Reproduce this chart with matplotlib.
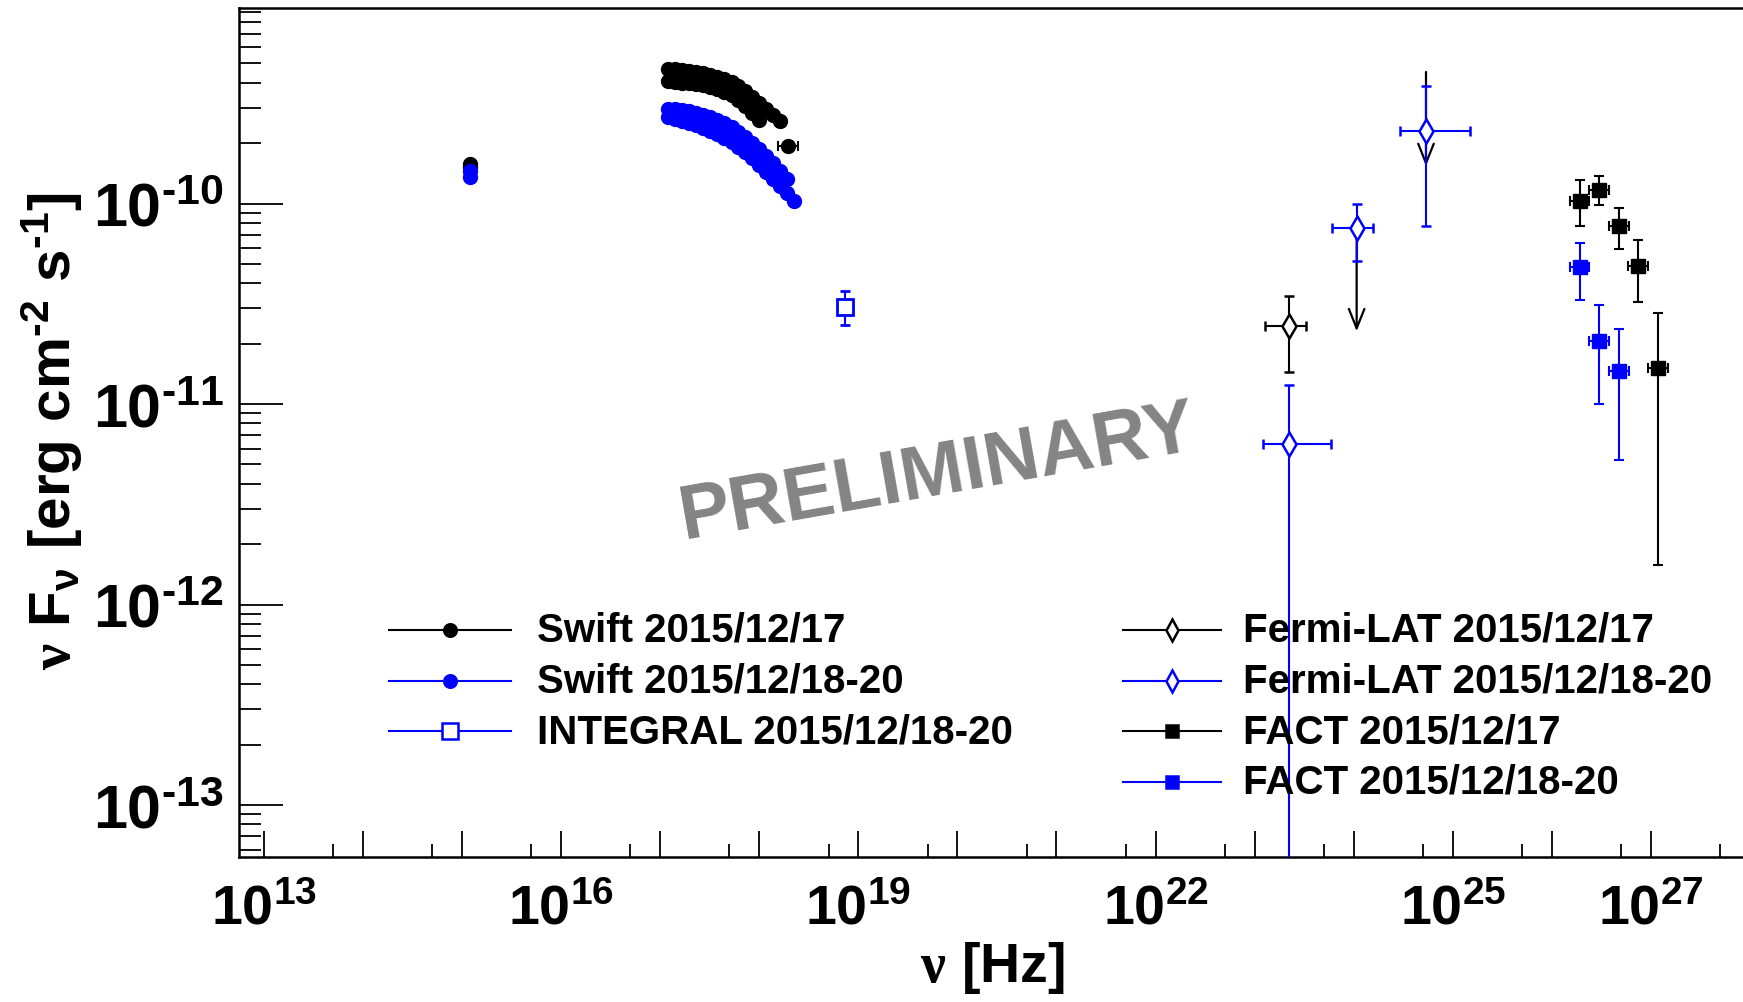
import numpy as np
import matplotlib
matplotlib.use('Agg')
import matplotlib.pyplot as plt
from matplotlib.ticker import FixedLocator, FuncFormatter

plt.rcParams['font.family'] = ['Liberation Sans', 'DejaVu Sans']
plt.rcParams['font.weight'] = 'bold'
plt.rcParams['mathtext.fontset'] = 'custom'
plt.rcParams['mathtext.bf'] = 'Liberation Sans:bold'
plt.rcParams['mathtext.rm'] = 'Liberation Sans:bold'
plt.rcParams['mathtext.sf'] = 'Liberation Serif'
plt.rcParams['mathtext.it'] = 'Liberation Sans:italic'

# ---- data (log10 of frequency in Hz, flux in erg cm^-2 s^-1) ----
# Swift UVOT
uvot17_lognu = [15.08, 15.08]
uvot17_flux = [1.58e-10, 1.52e-10]
uvot1820_lognu = [15.08, 15.08]
uvot1820_flux = [1.45e-10, 1.36e-10]

# Swift XRT 2015/12/17 (flux in units of 1e-10)
xrt17_lognu = [17.08, 17.15, 17.22, 17.29, 17.36, 17.43, 17.50, 17.57, 17.64,
               17.72, 17.79, 17.86, 17.93, 18.00, 18.07, 18.14, 18.21,
               17.08, 17.15, 17.22, 17.29, 17.36, 17.43, 17.50, 17.57, 17.64,
               17.72, 17.79, 17.86, 17.93, 18.00]
xrt17_flux = [4.69, 4.69, 4.63, 4.58, 4.53, 4.48, 4.37, 4.27, 4.18,
              4.04, 3.85, 3.64, 3.40, 3.17, 2.96, 2.76, 2.58,
              4.08, 4.04, 3.99, 3.99, 3.94, 3.90, 3.81, 3.72, 3.60,
              3.48, 3.28, 3.06, 2.83, 2.61]
xrt17_last_lognu = 18.29
xrt17_last_flux = 1.94
xrt17_last_xerr = 0.105

# Swift XRT 2015/12/18-20 (flux in units of 1e-10)
xrt1820_lognu = [17.08, 17.15, 17.22, 17.29, 17.36, 17.43, 17.50, 17.57, 17.64,
                 17.72, 17.79, 17.86, 17.93, 18.00, 18.07, 18.14, 18.21, 18.28,
                 17.08, 17.15, 17.22, 17.29, 17.36, 17.43, 17.50, 17.57, 17.64,
                 17.72, 17.79, 17.86, 17.93, 18.00, 18.07, 18.14, 18.21, 18.28, 18.35]
xrt1820_flux = [2.96, 2.96, 2.93, 2.89, 2.83, 2.76, 2.70, 2.61, 2.52,
                2.41, 2.27, 2.15, 2.00, 1.87, 1.73, 1.59, 1.45, 1.33,
                2.70, 2.64, 2.58, 2.52, 2.46, 2.38, 2.30, 2.22, 2.12,
                2.03, 1.91, 1.81, 1.69, 1.56, 1.44, 1.33, 1.22, 1.13, 1.03]

# INTEGRAL
integral_lognu = [18.866]
integral_flux = [3.05e-11]
integral_lo = [2.48e-11]
integral_hi = [3.66e-11]

# Fermi-LAT 2015/12/17
lat17_lognu = [23.35]
lat17_xlo = [23.10]
lat17_xhi = [23.52]
lat17_flux = [2.45e-11]
lat17_lo = [1.45e-11]
lat17_hi = [3.45e-11]
lat17_ul_lognu = [24.03, 24.73]
lat17_ul = [6.8e-11, 4.53e-10]

# Fermi-LAT 2015/12/18-20
lat1820_lognu = [23.35, 24.03, 24.73]
lat1820_xlo = [23.08, 23.78, 24.47]
lat1820_xhi = [23.77, 24.20, 25.17]
lat1820_flux = [6.3e-12, 7.55e-11, 2.30e-10]
lat1820_lo = [1e-14, 5.17e-11, 7.72e-11]
lat1820_hi = [1.24e-11, 9.95e-11, 3.86e-10]

# FACT
fact17_lognu = [26.28, 26.48, 26.68, 26.87, 27.07]
fact17_flux = [1.03e-10, 1.17e-10, 7.72e-11, 4.88e-11, 1.51e-11]
fact17_lo = [7.72e-11, 9.83e-11, 5.93e-11, 3.23e-11, 1.57e-12]
fact17_hi = [1.31e-10, 1.37e-10, 9.5e-11, 6.58e-11, 2.84e-11]
fact1820_lognu = [26.28, 26.48, 26.68]
fact1820_flux = [4.82e-11, 2.06e-11, 1.46e-11]
fact1820_lo = [3.30e-11, 1.0e-11, 5.26e-12]
fact1820_hi = [6.35e-11, 3.12e-11, 2.37e-11]
fact_xerr = 0.1

x_labelled = [13, 16, 19, 22, 25, 27]

W, H = 1743, 1003
fig = plt.figure(figsize=(W / 100, H / 100), dpi=100)
ax = fig.add_axes([239 / W, 1 - 858 / H, 1 - 239 / W, (858 - 9) / H])

BLUE = '#0000ff'
ebk = dict(elinewidth=1.5, capsize=3.5, capthick=1.5, linestyle='none')


def asym(center, lo, hi):
    c = np.array(center)
    return [c - np.array(lo), np.array(hi) - c]


# ---- Swift ----
ax.plot(10 ** np.array(uvot17_lognu), uvot17_flux, 'o', color='black', ms=10, zorder=3)
ax.plot(10 ** np.array(uvot1820_lognu), uvot1820_flux, 'o', color=BLUE, ms=10, zorder=4)
ax.plot(10 ** np.array(xrt1820_lognu), np.array(xrt1820_flux) * 1e-10, 'o', color=BLUE, ms=10, zorder=3)
ax.plot(10 ** np.array(xrt17_lognu), np.array(xrt17_flux) * 1e-10, 'o', color='black', ms=10, zorder=4)
ax.errorbar([10 ** xrt17_last_lognu], [xrt17_last_flux * 1e-10],
            xerr=[[10 ** xrt17_last_lognu - 10 ** (xrt17_last_lognu - xrt17_last_xerr)],
                  [10 ** (xrt17_last_lognu + xrt17_last_xerr) - 10 ** xrt17_last_lognu]],
            fmt='o', color='black', ms=10, zorder=4, **ebk)

# ---- INTEGRAL ----
nu = 10 ** np.array(integral_lognu)
ax.errorbar(nu, integral_flux, yerr=asym(integral_flux, integral_lo, integral_hi),
            fmt='s', color=BLUE, mfc='white', mec=BLUE, ms=12, mew=2, zorder=4, **ebk)

# ---- Fermi-LAT ----
for lnu, ul in zip(lat17_ul_lognu, lat17_ul):
    ax.annotate('', xy=(10 ** lnu, ul * 10 ** -0.47), xytext=(10 ** lnu, ul),
                arrowprops=dict(arrowstyle='->, head_length=0.7, head_width=0.28',
                                color='black', lw=1.6, mutation_scale=20,
                                shrinkA=0, shrinkB=0), zorder=2)
nu = 10 ** np.array(lat17_lognu)
ax.errorbar(nu, lat17_flux, xerr=asym(nu, 10 ** np.array(lat17_xlo), 10 ** np.array(lat17_xhi)),
            yerr=asym(lat17_flux, lat17_lo, lat17_hi),
            fmt='d', color='black', mfc='white', mec='black', ms=12, mew=1.8, zorder=4, **ebk)
nu = 10 ** np.array(lat1820_lognu)
ax.errorbar(nu, lat1820_flux, xerr=asym(nu, 10 ** np.array(lat1820_xlo), 10 ** np.array(lat1820_xhi)),
            yerr=asym(lat1820_flux, lat1820_lo, lat1820_hi),
            fmt='d', color=BLUE, mfc='white', mec=BLUE, ms=12, mew=1.8, zorder=4, **ebk)

# ---- FACT ----
for lnu, fl, lo, hi, col in [(fact17_lognu, fact17_flux, fact17_lo, fact17_hi, 'black'),
                             (fact1820_lognu, fact1820_flux, fact1820_lo, fact1820_hi, BLUE)]:
    nu = 10 ** np.array(lnu)
    ax.errorbar(nu, fl, xerr=asym(nu, nu * 10 ** -fact_xerr, nu * 10 ** fact_xerr),
                yerr=asym(fl, lo, hi), fmt='s', color=col, ms=10, zorder=4, **ebk)

# ---- axes ----
ax.set_xscale('log')
ax.set_yscale('log')
ax.set_xlim(10 ** 12.748, 10 ** 27.93)
ax.set_ylim(10 ** -13.259, 10 ** -9.025)


def pow_label(k):
    s = str(k).replace('-', r'\text{-}')
    return r'$\mathbf{10^{%s}}$' % s


ax.xaxis.set_major_locator(FixedLocator([10.0 ** k for k in range(13, 28)]))
ax.xaxis.set_minor_locator(FixedLocator([5 * 10.0 ** k for k in range(12, 28)]))
ax.xaxis.set_major_formatter(FuncFormatter(
    lambda v, p: pow_label(round(np.log10(v))) if round(np.log10(v)) in x_labelled else ''))
ax.yaxis.set_major_locator(FixedLocator([10.0 ** k for k in range(-13, -9)]))
ax.yaxis.set_minor_locator(FixedLocator([m * 10.0 ** k for k in range(-14, -9) for m in range(2, 10)]))
ax.yaxis.set_major_formatter(FuncFormatter(lambda v, p: pow_label(round(np.log10(v)))))

ax.tick_params(axis='x', which='major', direction='in', length=19, width=1.3, labelsize=40, pad=19)
ax.tick_params(axis='x', which='minor', direction='in', length=9.5, width=1.3)
ax.tick_params(axis='y', which='major', direction='in', length=32, width=1.3, labelsize=44, pad=11)
ax.tick_params(axis='y', which='minor', direction='in', length=16, width=1.3)
ax.tick_params(top=False, right=False, which='both')
for s in ['left', 'bottom', 'top']:
    ax.spines[s].set_linewidth(1.8)
ax.spines['right'].set_visible(False)

ax.text(0.465, 0.452, 'PRELIMINARY', transform=ax.transAxes, rotation=10,
        fontsize=55, fontweight='bold', color='#848484', ha='center', va='center', zorder=1)

fig.text(52 / W, 1 - 431 / H, r'$\mathsf{\nu}\ \mathbf{F_{\nu}\ [erg\ cm^{\text{-}2}\ s^{\text{-}1}]}$',
         rotation=90, ha='center', va='center', fontsize=42)
fig.text(992 / W, 1 - 968 / H, r'$\mathsf{\nu}\ \mathbf{[Hz]}$',
         ha='center', va='center', fontsize=40)

# ---- legend (drawn in pixel coordinates on an overlay) ----
ov = fig.add_axes([0, 0, 1, 1], facecolor='none')
ov.set_xlim(0, W)
ov.set_ylim(H, 0)
ov.axis('off')

legend_left = [('Swift 2015/12/17', 'black', 'o', 'black', 9),
               ('Swift 2015/12/18-20', BLUE, 'o', BLUE, 9),
               ('INTEGRAL 2015/12/18-20', BLUE, 's', 'white', 12)]
legend_right = [('Fermi-LAT 2015/12/17', 'black', 'd', 'white', 11),
                ('Fermi-LAT 2015/12/18-20', BLUE, 'd', 'white', 11),
                ('FACT 2015/12/17', 'black', 's', 'black', 9),
                ('FACT 2015/12/18-20', BLUE, 's', BLUE, 9)]
for entries, x0, x1, xt in [(legend_left, 389, 511, 537), (legend_right, 1123, 1221, 1243)]:
    for i, (lab, col, mk, fc, ms) in enumerate(entries):
        y = 631 + 50.5 * i
        ov.plot([x0, x1], [y, y], color=col, lw=1.5)
        ov.plot([(x0 + x1) / 2], [y], marker=mk, color=col, mfc=fc, mec=col, ms=ms, mew=1.8)
        ov.text(xt, y, lab, fontsize=29, fontweight='bold', ha='left', va='center')

fig.savefig('out.png', dpi=100)
